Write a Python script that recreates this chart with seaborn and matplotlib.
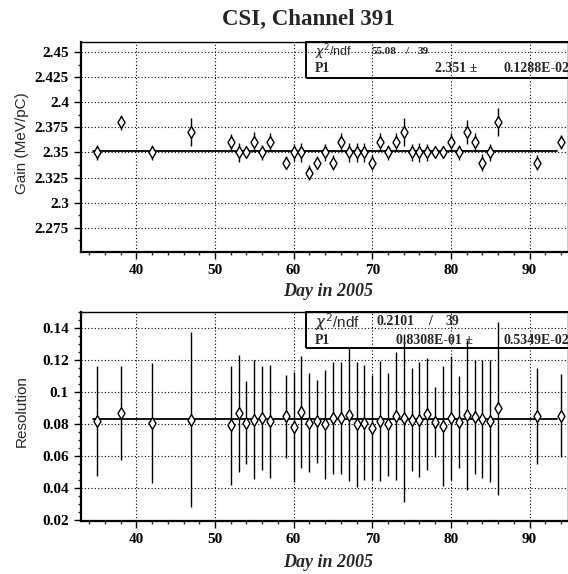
import matplotlib
matplotlib.use("Agg")
import matplotlib.pyplot as plt
import matplotlib.ticker as mticker
from matplotlib.patches import Rectangle
import numpy as np
import pandas as pd
import seaborn as sns

# ---------------- data ----------------
days = [35, 38, 42, 47, 52, 53, 54, 55, 56, 57, 59, 60, 61, 62, 63, 64, 65, 66, 67, 68,
        69, 70, 71, 72, 73, 74, 75, 76, 77, 78, 79, 80, 81, 82, 83, 84, 85, 86, 91, 94]
gain = [2.35, 2.38, 2.35, 2.37, 2.36, 2.35, 2.35, 2.36, 2.35, 2.36, 2.34, 2.35, 2.35, 2.33,
        2.34, 2.35, 2.34, 2.36, 2.35, 2.35, 2.35, 2.34, 2.36, 2.35, 2.36, 2.37, 2.35, 2.35,
        2.35, 2.35, 2.35, 2.36, 2.35, 2.37, 2.36, 2.34, 2.35, 2.38, 2.34, 2.36]
gain_err = [0.007, 0.0075, 0.0075, 0.014, 0.008, 0.009, 0.005, 0.010, 0.0075, 0.009, 0.0065,
            0.008, 0.009, 0.0075, 0.006, 0.008, 0.0075, 0.009, 0.009, 0.009, 0.009, 0.007,
            0.009, 0.0075, 0.009, 0.014, 0.008, 0.009, 0.008, 0.004, 0.006, 0.009, 0.007,
            0.012, 0.009, 0.008, 0.008, 0.014, 0.007, 0.007]
resol = [0.082, 0.087, 0.081, 0.083, 0.0795, 0.087, 0.081, 0.083, 0.084, 0.082, 0.085,
         0.0785, 0.088, 0.081, 0.082, 0.080, 0.084, 0.084, 0.086, 0.080, 0.081, 0.078,
         0.082, 0.080, 0.085, 0.084, 0.083, 0.083, 0.0865, 0.0815, 0.079, 0.084, 0.0815,
         0.086, 0.0845, 0.0835, 0.082, 0.090, 0.085, 0.0855]
resol_err = [0.0344, 0.0295, 0.0375, 0.0545, 0.0372, 0.0367, 0.026, 0.0374, 0.0324, 0.0353,
             0.026, 0.0343, 0.035, 0.031, 0.026, 0.034, 0.035, 0.035, 0.0415, 0.039, 0.036,
             0.033, 0.0375, 0.032, 0.040, 0.0525, 0.032, 0.036, 0.035, 0.022, 0.0375, 0.039,
             0.029, 0.047, 0.0357, 0.037, 0.038, 0.054, 0.030, 0.026]

fit_range = [34.5, 93.5]
gain_p1 = 2.351
resol_p1 = 0.08308

title = "CSI, Channel 391"
xlabel = "Day in 2005"
gain_label = "Gain (MeV/pC)"
resol_label = "Resolution"
gain_stats = ["55.08", "39", "2.351 \u00b1", "0.1288E-02"]
resol_stats = ["0.2101", "39", "0.8308E-01 \u00b1", "0.5349E-02"]

df = pd.DataFrame({"day": days, "gain": gain, "gain_err": gain_err,
                   "resol": resol, "resol_err": resol_err})

# ---------------- style ----------------
sns.set_style("white")
plt.rcParams["font.family"] = ["Liberation Serif", "DejaVu Serif"]
plt.rcParams["mathtext.fontset"] = "dejavusans"

W, H = 568, 574
fig = plt.figure(figsize=(W / 100, H / 100), dpi=100)


def fx(px):
    return px / W


def fy(py):
    return 1 - py / H


L, R = 80.7, 567.5
ax1 = fig.add_axes([fx(L), fy(252.3), fx(R) - fx(L), (252.3 - 42.3) / H])
ax2 = fig.add_axes([fx(L), fy(520.7), fx(R) - fx(L), (520.7 - 312.3) / H])

serif_bold = dict(family="Liberation Serif", weight="bold")


def style_axis(ax, ylim, ymajor, yminor, ylab, ylab_y, xlab_y):
    ax.set_xlim(32.93, 94.82)
    ax.set_ylim(*ylim)
    ax.xaxis.set_major_locator(mticker.MultipleLocator(10))
    ax.xaxis.set_minor_locator(mticker.MultipleLocator(2))
    ax.yaxis.set_major_locator(mticker.MultipleLocator(ymajor))
    ax.yaxis.set_minor_locator(mticker.MultipleLocator(yminor))
    ax.yaxis.set_major_formatter(mticker.FormatStrFormatter("%g"))
    ax.grid(True, which="major", color="black", linestyle=(0, (1, 2)), linewidth=0.8)
    ax.tick_params(which="major", direction="out", length=5, width=1.0, pad=3.5,
                   labelsize=11, colors="black", left=True, bottom=True)
    ax.tick_params(which="minor", direction="out", length=2.5, width=1.0,
                   left=True, bottom=True)
    for lab in ax.get_xticklabels() + ax.get_yticklabels():
        lab.set_fontweight("bold")
        lab.set_family("Liberation Serif")
    for side in ["left", "bottom"]:
        ax.spines[side].set_linewidth(1.6)
        ax.spines[side].set_color("black")
    for side in ["top", "right"]:
        ax.spines[side].set_linewidth(1.0)
        ax.spines[side].set_color("black")
    ax.set_ylabel(ylab, family="Liberation Sans", fontsize=11)
    ax.yaxis.label.set_va("center")
    ax.yaxis.set_label_coords(-0.121, ylab_y)
    ax.set_xlabel(xlabel, family="Liberation Serif", weight="bold", style="italic",
                  fontsize=13)
    ax.xaxis.label.set_va("center")
    ax.xaxis.set_label_coords(0.508, xlab_y)


def draw_panel(ax, ycol, ecol, p1):
    ax.errorbar(df["day"], df[ycol], yerr=df[ecol], fmt="none", ecolor="black",
                elinewidth=1.0, capsize=0, zorder=3)
    ax.plot(fit_range, [p1, p1], color="black", linewidth=1.3, zorder=2)
    sns.scatterplot(data=df, x="day", y=ycol, ax=ax, marker="d", s=36,
                    facecolor="white", edgecolor="black", linewidth=1.0, zorder=4,
                    legend=False)


draw_panel(ax1, "gain", "gain_err", gain_p1)
draw_panel(ax2, "resol", "resol_err", resol_p1)

style_axis(ax1, (2.2506, 2.4597), 0.025, 0.0125, gain_label, 0.52, -0.1876)
style_axis(ax2, (0.0198, 0.1501), 0.02, 0.005, resol_label, 0.524, -0.2015)

# title
fig.text(fx(308), fy(19), title, ha="center", va="center", fontsize=16.5, **serif_bold)


# stats boxes
def stats_box(top, bottom, vals, row1_size, row2_size, pos):
    fig.patches.append(Rectangle((fx(306), fy(bottom)), fx(580) - fx(306),
                                 (bottom - top) / H, fill=False, edgecolor="black",
                                 linewidth=1.4, transform=fig.transFigure,
                                 figure=fig, clip_on=False))
    r1 = pos["r1"]
    r2 = pos["r2"]
    fig.text(fx(315), fy(r1), r"$\chi^2$/ndf", ha="left", va="center",
             family="Liberation Sans", fontsize=row1_size + 1)
    fig.text(fx(pos["v1"]), fy(r1), vals[0], ha="left", va="center",
             fontsize=row1_size, **serif_bold)
    fig.text(fx(pos["sl"]), fy(r1), "/", ha="center", va="center",
             fontsize=row1_size, **serif_bold)
    fig.text(fx(pos["n"]), fy(r1), vals[1], ha="left", va="center",
             fontsize=row1_size, **serif_bold)
    fig.text(fx(315), fy(r2), "P1", ha="left", va="center", fontsize=row2_size,
             **serif_bold)
    fig.text(fx(pos["p1"]), fy(r2), vals[2], ha="right", va="center",
             fontsize=row2_size, **serif_bold)
    fig.text(fx(503), fy(r2), vals[3], ha="left", va="center",
             fontsize=row2_size, **serif_bold)


stats_box(42.3, 77.5, gain_stats, 8, 10,
          dict(r1=51.7, r2=68.3, v1=372, sl=407, n=418, p1=477))
stats_box(312.3, 348.3, resol_stats, 10, 10,
          dict(r1=321.7, r2=340, v1=377, sl=430, n=446, p1=473))

fig.savefig("out.png", dpi=100)
